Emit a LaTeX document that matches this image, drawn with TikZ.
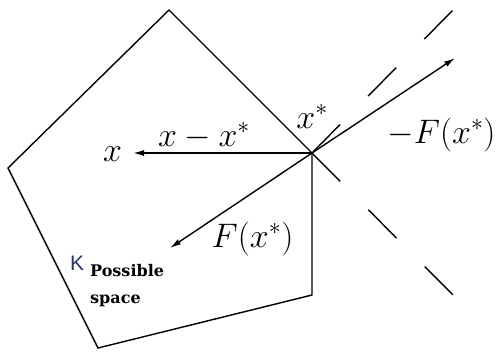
\RequirePackage{fix-cm}
\documentclass[tikz,border=0pt]{standalone}
\usepackage{fontspec}
\newfontfamily\possfont{DejaVu Serif}
\newfontfamily\kfont{Liberation Sans}
\usetikzlibrary{arrows.meta}
\definecolor{kblue}{RGB}{35,55,110}
\begin{document}
\begin{tikzpicture}[x=1pt,y=-1pt,
  edge/.style={line width=1.4pt,line join=miter},
  vec/.style={line width=1.4pt,-{Latex[length=11pt,width=6pt]}},
  cone/.style={line width=1.4pt,dash pattern=on 40pt off 40pt},
  lab/.style={font=\fontsize{34}{40}\selectfont,inner sep=0pt,anchor=base},
  kstyle/.style={font=\kfont\fontsize{21}{24}\selectfont,text=kblue,inner sep=0pt,anchor=base west},
  poss/.style={font=\possfont\bfseries\fontsize{16}{19}\selectfont,inner sep=0pt,anchor=base west}]
\useasboundingbox (0,0) rectangle (500,354);
% pentagon vertices
\coordinate (T) at (169,10);
\coordinate (L) at (8,168);
\coordinate (B) at (98,348);
\coordinate (R) at (312,295);
\coordinate (X) at (312,153);
% cone ends and arrow tips
\coordinate (C1) at (453,10);
\coordinate (C2) at (453,295);
\coordinate (ax) at (133,153);
\coordinate (aF) at (170,248);
\coordinate (amF) at (455,58);
% set K
\draw[edge] (X) -- (T) -- (L) -- (B) -- (R) -- cycle;
% normal cone boundaries
\draw[cone] (X) -- (C1);
\draw[cone] (X) -- (C2);
% vectors
\draw[vec] (X) -- (ax);
\draw[vec] (X) -- (aF);
\draw[vec] (X) -- (amF);
% labels
\node[lab] (lx) at (112.5,161) {$x$};
\node[lab] (lxx) at (204,146) {$x-x^*$};
\node[lab] (lxs) at (312,128) {$x^*$};
\node[lab] (lmF) at (441.5,143) {$-F(x^*)$};
\node[lab] (lF) at (252.5,247) {$F(x^*)$};
\node[kstyle] (lK) at (70,270) {K};
\node[poss] (lp1) at (90,276) {Possible};
\node[poss] (lp2) at (90,303) {space};
\end{tikzpicture}
\end{document}
